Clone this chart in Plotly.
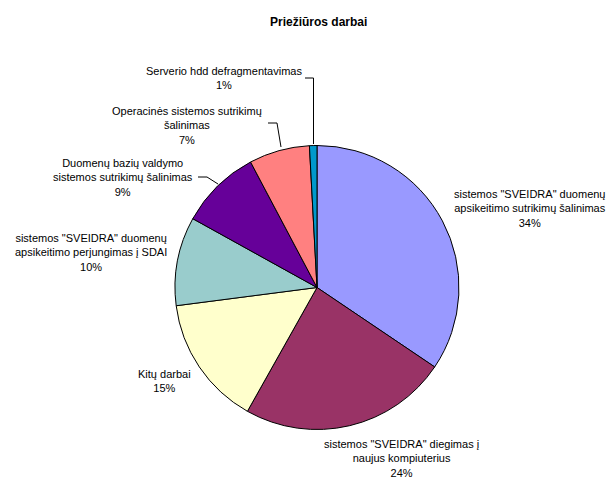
import plotly.graph_objects as go

W, H = 611, 478

labels = [
    'sistemos "SVEIDRA" duomenų<br>apsikeitimo sutrikimų šalinimas',
    'sistemos "SVEIDRA" diegimas į<br>naujus kompiuterius',
    'Kitų darbai',
    'sistemos "SVEIDRA" duomenų<br>apsikeitimo perjungimas į SDAI',
    'Duomenų bazių valdymo<br>sistemos sutrikimų šalinimas',
    'Operacinės sistemos sutrikimų<br>šalinimas',
    'Serverio hdd defragmentavimas',
]
values = [34.45, 23.7, 14.8, 10.1, 9.2, 6.9, 0.85]
colors = ["#9999FF", "#993366", "#FFFFCC", "#99CCCC", "#660099", "#FF8080", "#0099CC"]

# label centre positions in pixels (layout only)
label_pos = [(530, 208), (402, 458), (164, 381), (91, 252), (123, 177), (187, 125), (224, 78)]

def px(x):
    return x / W

def py(y):
    return 1 - y / H

total = sum(values)
pcts = [round(v / total * 100) for v in values]

fig = go.Figure(go.Pie(
    labels=labels,
    values=values,
    sort=False,
    direction="clockwise",
    rotation=0,
    textinfo="none",
    hoverinfo="label+percent",
    marker=dict(colors=colors, line=dict(color="#000000", width=1)),
    domain=dict(x=[px(175), px(459)], y=[py(430), py(145)]),
    showlegend=False,
))

annotations = []
for lab, p, (x, y) in zip(labels, pcts, label_pos):
    annotations.append(dict(
        x=px(x), y=py(y), xref="paper", yref="paper",
        text=f"{lab}<br>{p}%", showarrow=False, align="center",
        xanchor="center", yanchor="middle",
        font=dict(family="Liberation Sans, Arial", size=11, color="#000000"),
    ))

annotations.append(dict(
    x=px(318), y=py(22), xref="paper", yref="paper",
    text="<b>Priežiūros darbai</b>", showarrow=False,
    xanchor="center", yanchor="middle",
    font=dict(family="Liberation Sans, Arial", size=12, color="#000000"),
))

leaders = [
    [(305, 78), (313.5, 78), (313.5, 144)],
    [(268, 123), (277, 123), (281, 147)],
    [(198, 177), (207, 177), (218, 184)],
]
shapes = []
for pts in leaders:
    path = "M " + " L ".join(f"{px(x)},{py(y)}" for x, y in pts)
    shapes.append(dict(type="path", path=path, xref="paper", yref="paper",
                       line=dict(color="#000000", width=1)))

fig.update_layout(
    width=W, height=H,
    margin=dict(l=0, r=0, t=0, b=0),
    paper_bgcolor="#FFFFFF",
    plot_bgcolor="#FFFFFF",
    annotations=annotations,
    shapes=shapes,
)

fig.write_html(
    "out.html",
    config={"displayModeBar": False},
    post_script="document.body.style.margin='0';document.body.style.overflow='hidden';",
)
